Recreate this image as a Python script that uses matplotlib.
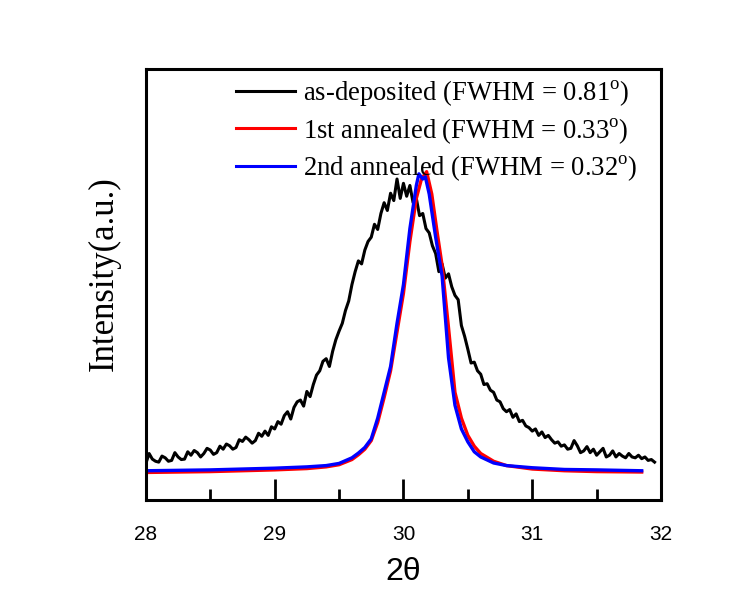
import matplotlib
matplotlib.use("Agg")
import matplotlib.pyplot as plt
import numpy as np

plt.rcParams["mathtext.fontset"] = "custom"
plt.rcParams["mathtext.rm"] = "Liberation Serif"

# as-deposited film, normalised intensity every 0.025 deg
y_dep = [0.085, 0.108, 0.095, 0.090, 0.088, 0.102, 0.098, 0.090, 0.092, 0.110,
         0.100, 0.094, 0.095, 0.112, 0.104, 0.115, 0.110, 0.100, 0.108, 0.120,
         0.116, 0.106, 0.110, 0.125, 0.118, 0.130, 0.126, 0.118, 0.122, 0.140,
         0.136, 0.146, 0.140, 0.132, 0.138, 0.155, 0.148, 0.160, 0.150, 0.170,
         0.165, 0.182, 0.176, 0.196, 0.205, 0.188, 0.215, 0.228, 0.232, 0.218,
         0.252, 0.240, 0.268, 0.290, 0.300, 0.322, 0.328, 0.310, 0.345, 0.372,
         0.392, 0.410, 0.440, 0.462, 0.500, 0.530, 0.555, 0.548, 0.580, 0.600,
         0.610, 0.640, 0.628, 0.665, 0.690, 0.672, 0.712, 0.695, 0.745, 0.700,
         0.735, 0.705, 0.730, 0.690, 0.700, 0.660, 0.665, 0.630, 0.620, 0.590,
         0.572, 0.530, 0.548, 0.515, 0.525, 0.495, 0.475, 0.465, 0.405, 0.380,
         0.350, 0.318, 0.320, 0.300, 0.292, 0.268, 0.270, 0.255, 0.250, 0.232,
         0.228, 0.212, 0.205, 0.210, 0.192, 0.200, 0.182, 0.185, 0.172, 0.168,
         0.160, 0.165, 0.150, 0.158, 0.145, 0.150, 0.140, 0.132, 0.135, 0.125,
         0.128, 0.118, 0.120, 0.138, 0.126, 0.110, 0.114, 0.124, 0.110, 0.118,
         0.104, 0.112, 0.120, 0.100, 0.104, 0.114, 0.100, 0.108, 0.102, 0.098,
         0.108, 0.100, 0.098, 0.104, 0.096, 0.100, 0.092, 0.094, 0.088]
x_dep = np.linspace(28.0, 31.95, len(y_dep))

# 1st annealed
x_an1 = [28.00, 28.25, 28.50, 28.75, 29.00, 29.25, 29.40, 29.50, 29.60, 29.65,
         29.70, 29.75, 29.80, 29.85, 29.90, 29.95, 30.00, 30.05, 30.10, 30.14,
         30.18, 30.22, 30.26, 30.30, 30.35, 30.40, 30.45, 30.50, 30.55, 30.60,
         30.70, 30.80, 31.00, 31.25, 31.50, 31.85]
y_an1 = [0.064, 0.065, 0.066, 0.068, 0.070, 0.073, 0.077, 0.082, 0.094, 0.105,
         0.118, 0.138, 0.180, 0.238, 0.300, 0.390, 0.480, 0.600, 0.700, 0.745,
         0.762, 0.710, 0.625, 0.545, 0.400, 0.250, 0.190, 0.150, 0.125, 0.108,
         0.090, 0.080, 0.072, 0.068, 0.066, 0.065]

# 2nd annealed
x_an2 = [28.00, 28.25, 28.50, 28.75, 29.00, 29.25, 29.40, 29.50, 29.60, 29.65,
         29.70, 29.75, 29.80, 29.85, 29.90, 29.95, 30.00, 30.05, 30.10, 30.12,
         30.15, 30.17, 30.20, 30.25, 30.30, 30.35, 30.40, 30.45, 30.50, 30.55,
         30.60, 30.70, 30.80, 31.00, 31.25, 31.50, 31.85]
y_an2 = [0.068, 0.069, 0.070, 0.072, 0.074, 0.077, 0.080, 0.085, 0.098, 0.109,
         0.122, 0.142, 0.190, 0.250, 0.310, 0.410, 0.500, 0.630, 0.730, 0.757,
         0.745, 0.750, 0.710, 0.610, 0.520, 0.330, 0.220, 0.165, 0.135, 0.112,
         0.100, 0.086, 0.080, 0.075, 0.071, 0.070, 0.068]

labels = ["as-deposited (FWHM = 0.81$^\\mathrm{o}$)",
          "1st annealed (FWHM = 0.33$^\\mathrm{o}$)",
          "2nd annealed (FWHM = 0.32$^\\mathrm{o}$)"]

fig = plt.figure(figsize=(7.52, 5.96), dpi=100)
ax = fig.add_axes([0.194, 0.161, 0.685, 0.723])

ax.plot(x_dep, y_dep, color="black", lw=2.2, label=labels[0])
ax.plot(x_an1, y_an1, color="red", lw=2.4, label=labels[1])
ax.plot(x_an2, y_an2, color="blue", lw=2.4, label=labels[2])

ax.set_xlim(28, 32)
ax.set_ylim(0, 1)
ax.set_yticks([])
ax.set_xticks([28, 29, 30, 31, 32])
ax.set_xticks([28.5, 29.5, 30.5, 31.5], minor=True)
ax.tick_params(axis="x", which="major", direction="in", length=15, width=2,
               pad=18, labelsize=15)
ax.tick_params(axis="x", which="minor", direction="in", length=8, width=2)
for lab in ax.get_xticklabels():
    lab.set_family("Liberation Sans")
for s in ax.spines.values():
    s.set_linewidth(2.2)

ax.set_xlabel("2θ", family="Liberation Sans", fontsize=23, labelpad=9)
ax.set_ylabel("Intensity(a.u.)", family="Liberation Serif", fontsize=25)
ax.yaxis.set_label_coords(-0.049, 0.525)

leg = ax.legend(loc="upper right", bbox_to_anchor=(0.99, 1.022), frameon=False,
                prop={"family": "Liberation Serif", "size": 19.2},
                handlelength=2.2, handletextpad=0.3, labelspacing=0.28,
                borderpad=0.2)
for h in leg.get_lines():
    h.set_linewidth(2.2)

fig.savefig("out.png", dpi=100, facecolor="white")
